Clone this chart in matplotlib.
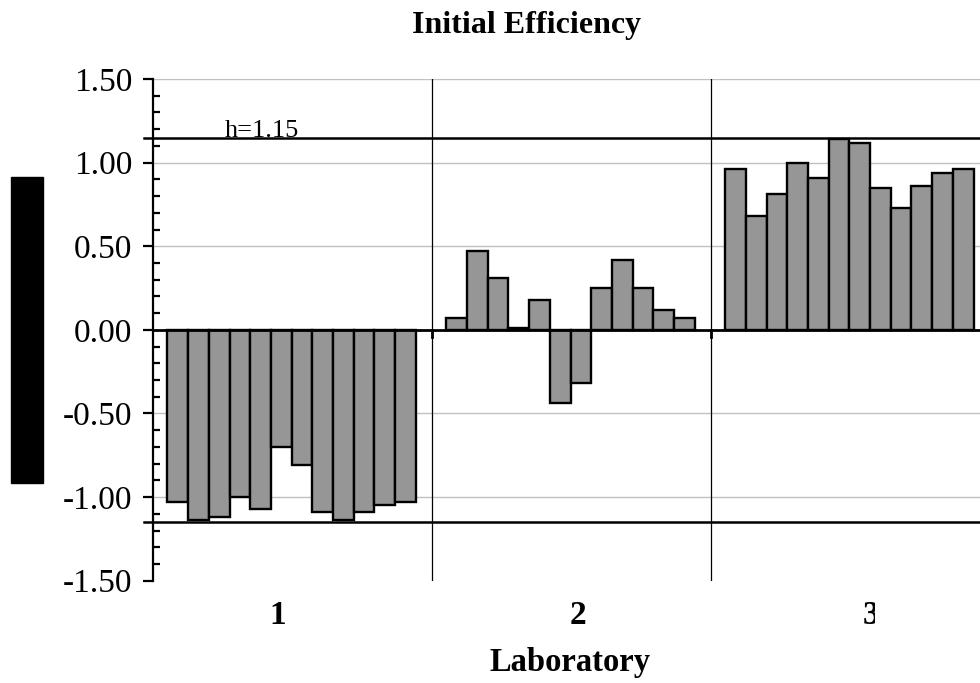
import numpy as np
import matplotlib
matplotlib.use("Agg")
import matplotlib.pyplot as plt
from matplotlib.patches import Rectangle
from matplotlib.transforms import Bbox
from matplotlib.ticker import MultipleLocator

plt.rcParams["font.family"] = ["Liberation Serif", "DejaVu Serif"]

# h-statistic per laboratory, 12 results each
labs = ["1", "2", "3"]
lab1 = [-1.03, -1.14, -1.12, -1.00, -1.07, -0.70, -0.81, -1.09, -1.14, -1.09, -1.05, -1.03]
lab2 = [0.07, 0.47, 0.31, 0.01, 0.18, -0.44, -0.32, 0.25, 0.42, 0.25, 0.12, 0.07]
lab3 = [0.96, 0.68, 0.81, 1.00, 0.91, 1.14, 1.12, 0.85, 0.73, 0.86, 0.94, 0.96]
h_crit = 1.15

groups = [lab1, lab2, lab3]
W = 13.47      # width of one laboratory block (bar units)
OFF = 0.7      # gap before first bar in a block
lab_pos = [6.01, 20.51, 34.69]

fig = plt.figure(figsize=(9.8, 6.83), dpi=100)
ax = fig.add_axes([153 / 980, 1 - 580.7 / 683, 1 - 153 / 980, (580.7 - 79) / 683])

for g, vals in enumerate(groups):
    x = g * W + OFF + np.arange(len(vals)) + 0.5
    ax.bar(x, vals, width=1.0, color="#969696", edgecolor="black",
           linewidth=1.7, zorder=3)

ax.set_xlim(0, 39.95)
ax.set_ylim(-1.5, 1.5)

# light horizontal grid
for y in [-1.0, -0.5, 0.5, 1.0, 1.5]:
    ax.axhline(y, color="#c0c0c0", lw=1, zorder=1)

# block separators
for g in range(1, len(groups)):
    ax.axvline(g * W, color="black", lw=0.9, zorder=2)
    ax.plot([g * W, g * W], [0, -0.045], color="black", lw=2, zorder=2)

ax.axhline(0, color="black", lw=2, zorder=4)

# critical h lines
for y in [h_crit, -h_crit]:
    ax.plot([-0.45, 39.95], [y, y], color="black", lw=1.8, zorder=4, clip_on=False)
ax.text(3.48, h_crit + 0.005, f"h={h_crit:.2f}", fontsize=19, va="baseline",
        ha="left", zorder=2)

for s in ["top", "right", "bottom"]:
    ax.spines[s].set_visible(False)
ax.spines["left"].set_linewidth(1.6)

ax.yaxis.set_major_locator(MultipleLocator(0.5))
ax.yaxis.set_minor_locator(MultipleLocator(0.1))
ax.set_yticks(np.arange(-1.5, 1.51, 0.5))
ax.set_yticklabels([f"{v:.2f}" for v in np.arange(-1.5, 1.51, 0.5)])
ax.tick_params(axis="y", which="major", direction="out", length=7, width=1.6,
               labelsize=24, pad=8)
ax.tick_params(axis="y", which="minor", direction="in", length=5, width=1.6)
ax.set_xticks([])

# laboratory labels below the plot
tr = ax.get_xaxis_transform()
for pos, lab in zip(lab_pos, labs):
    t = ax.text(pos, -0.07, lab, transform=tr, ha="center", va="center",
                fontsize=24, fontweight="bold")
    t.set_clip_box(Bbox.from_extents(0, 0, 875, 683))
    t.set_clip_on(True)

fig.text(570 / 980, 1 - 663 / 683, "Laboratory", ha="center", va="center",
         fontsize=23.5, fontweight="bold")
fig.text(527 / 980, 1 - 25 / 683, "Initial Efficiency", ha="center", va="center",
         fontsize=23, fontweight="bold")

fig.patches.append(Rectangle((11 / 980, 1 - 482.7 / 683), 32 / 980, 306 / 683,
                             transform=fig.transFigure, color="black"))

fig.savefig("out.png", dpi=100)
